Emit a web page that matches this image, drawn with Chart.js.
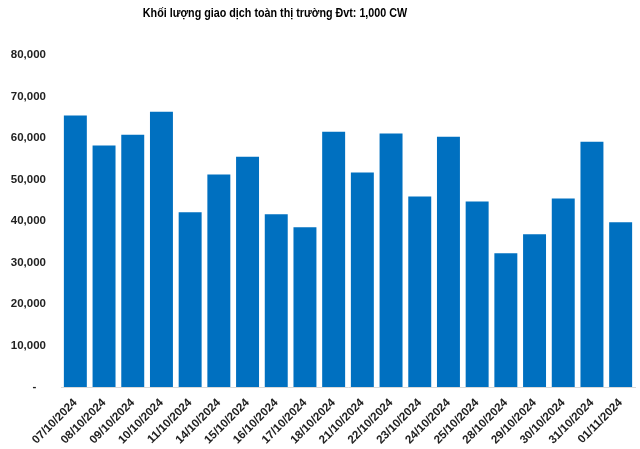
<!DOCTYPE html>
<html>
<head>
<meta charset="utf-8">
<script src="https://cdn.jsdelivr.net/npm/chart.js@4/dist/chart.umd.min.js"></script>
<style>
html,body{margin:0;padding:0;background:#fff;}
#wrap{position:relative;width:640px;height:449px;}
#title{position:absolute;left:75px;top:6px;width:400px;text-align:center;font:bold 12.5px "Liberation Sans",Arial,sans-serif;color:#000;white-space:nowrap;transform:scaleX(0.86);transform-origin:200px 0;}
canvas{position:absolute;left:0;top:0;}
</style>
</head>
<body>
<div id="wrap">
<canvas id="c" width="640" height="449"></canvas>
<div id="title">Khối lượng giao dịch toàn thị trường Đvt: 1,000 CW</div>
</div>
<script>
const categories = ["07/10/2024","08/10/2024","09/10/2024","10/10/2024","11/10/2024","14/10/2024","15/10/2024","16/10/2024","17/10/2024","18/10/2024","21/10/2024","22/10/2024","23/10/2024","24/10/2024","25/10/2024","28/10/2024","29/10/2024","30/10/2024","31/10/2024","01/11/2024"];
const volumes = [65400,58200,60800,66300,42100,51200,55500,41600,38500,61500,51700,61100,45900,60300,44700,32200,36800,45400,59100,39700];
const yTicks = [0,10000,20000,30000,40000,50000,60000,70000,80000];

const font = {family:'"Liberation Sans", Arial, sans-serif', weight:'bold'};
new Chart(document.getElementById('c'), {
  type:'bar',
  data:{labels:categories, datasets:[{data:volumes, backgroundColor:'#0070C0', barPercentage:0.8, categoryPercentage:1.0}]},
  options:{
    responsive:false, animation:false,
    layout:{padding:{top:55,right:5,left:0,bottom:0}},
    plugins:{legend:{display:false}, title:{display:false}, tooltip:{enabled:false}},
    scales:{
      x:{
        grid:{display:false, drawTicks:false},
        border:{display:true,color:'#d9d9d9',width:1},
        ticks:{maxRotation:45,minRotation:45,autoSkip:false,color:'#222',padding:9,font:Object.assign({size:11.6},font)},
        afterFit:(s)=>{s.height=62;}
      },
      y:{
        min:0,max:80000,
        afterBuildTicks:(s)=>{s.ticks=yTicks.map(v=>({value:v}));},
        grid:{display:false, drawTicks:false},
        border:{display:false},
        ticks:{color:'#222',padding:15,font:Object.assign({size:11.5},font),
          callback:(v)=> v===0 ? '-   ' : v.toLocaleString('en-US')},
        afterFit:(s)=>{s.width=61;}
      }
    }
  }
});
</script>
</body>
</html>
